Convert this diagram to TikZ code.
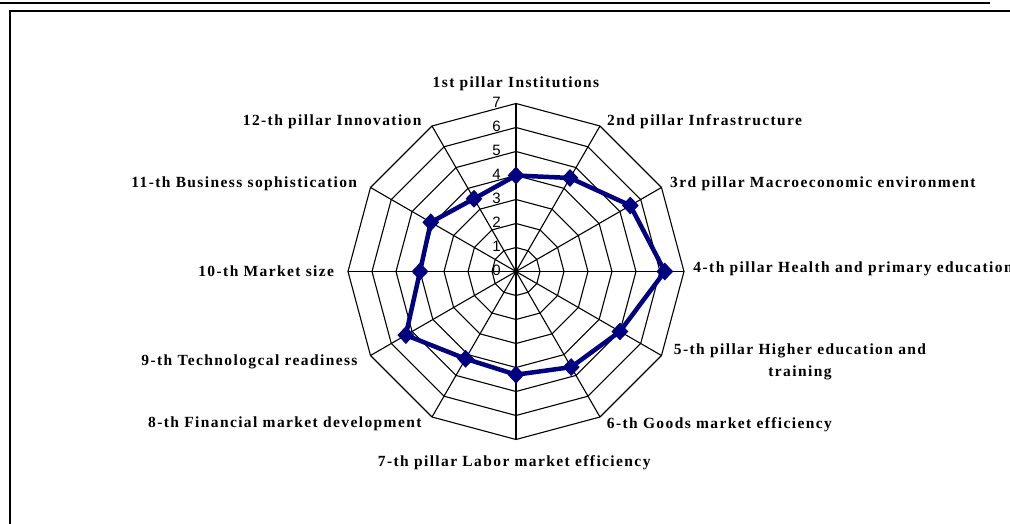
\documentclass[tikz,border=0pt]{standalone}
\usepackage{fontspec}
\setmainfont{Liberation Serif}
\newfontfamily\pillarfont[LetterSpace=9]{Liberation Serif}
\newfontfamily\axisfont{Liberation Sans}
\usepackage{xcolor}
\usepackage{tikz}
\usetikzlibrary{shapes.geometric}
\definecolor{scorenavy}{HTML}{000080}

\begin{document}
\begin{tikzpicture}[
    x=1pt, y=1pt,
    web/.style={draw, line width=1.1pt},
    pillar/.style={font=\pillarfont\bfseries\fontsize{15.5}{21.7}\selectfont,
                   inner sep=0pt, align=center},
    tick/.style={font=\axisfont\fontsize{15}{15}\selectfont,
                 inner sep=0pt, anchor=east},
    score/.style={draw=scorenavy, line width=4.5pt, line join=round},
    marker/.style={diamond, fill=scorenavy, inner sep=0pt,
                   minimum width=17pt, minimum height=18pt},
]
    % Frame
    \useasboundingbox (-516,-252.5) rectangle (494,271.5);
    \draw[line width=2.3pt] (-516,268.7) -- (474,268.7);
    \draw[line width=2pt] (-505.7,-260) -- (-505.7,260.5) -- (500,260.5);

    % Web
    \foreach \r [evaluate=\r as \rad using \r*24] in {1,...,7}
        \draw[web] (90:\rad) \foreach \a in {60,30,...,-240} {-- (\a:\rad)} -- cycle;
    \foreach \a in {90,60,...,-240}
        \draw[web] (0,0) -- (\a:168);

    % Scale
    \foreach \v in {0,...,7}
        \node[tick] (tick\v) at (-15,\v*24+1.5) {\v};

    % Scores
    \foreach \v [count=\k, evaluate=\k as \ang using 120-30*\k,
                 evaluate=\v as \rad using \v*24]
        in {4.0,4.5,5.5,6.2,5.0,4.6,4.3,4.2,5.3,4.0,4.1,3.5}
        \coordinate (p\k) at (\ang:\rad);
    \draw[score] (p1) -- (p2) -- (p3) -- (p4) -- (p5) -- (p6) -- (p7)
        -- (p8) -- (p9) -- (p10) -- (p11) -- (p12) -- cycle;
    \foreach \k in {1,...,12}
        \node[marker] (m\k) at (p\k) {};

    % Pillar labels
    \node[pillar, anchor=base] (pil1) at (0,184.3) {1st pillar Institutions};
    \node[pillar, anchor=base west] (pil2) at (91,146) {2nd pillar Infrastructure};
    \node[pillar, anchor=base west] (pil3) at (154,83.7) {3rd pillar Macroeconomic environment};
    \node[pillar, anchor=base west] (pil4) at (177.3,-1.3) {4-th pillar Health and primary education};
    \node[pillar] (pil5) at (284,-90.4) {5-th pillar Higher education and\\training};
    \node[pillar, anchor=base west] (pil6) at (90.7,-157) {6-th Goods market efficiency};
    \node[pillar, anchor=base] (pil7) at (-1.8,-194.7) {7-th pillar Labor market efficiency};
    \node[pillar, anchor=base east] (pil8) at (-94.3,-156.3) {8-th Financial market development};
    \node[pillar, anchor=base east] (pil9) at (-158.3,-93.7) {9-th Technologcal readiness};
    \node[pillar, anchor=base east] (pil10) at (-181.7,-4.7) {10-th Market size};
    \node[pillar, anchor=base east] (pil11) at (-158.7,83.7) {11-th Business sophistication};
    \node[pillar, anchor=base east] (pil12) at (-94.3,146.3) {12-th pillar Innovation};
\end{tikzpicture}
\end{document}
